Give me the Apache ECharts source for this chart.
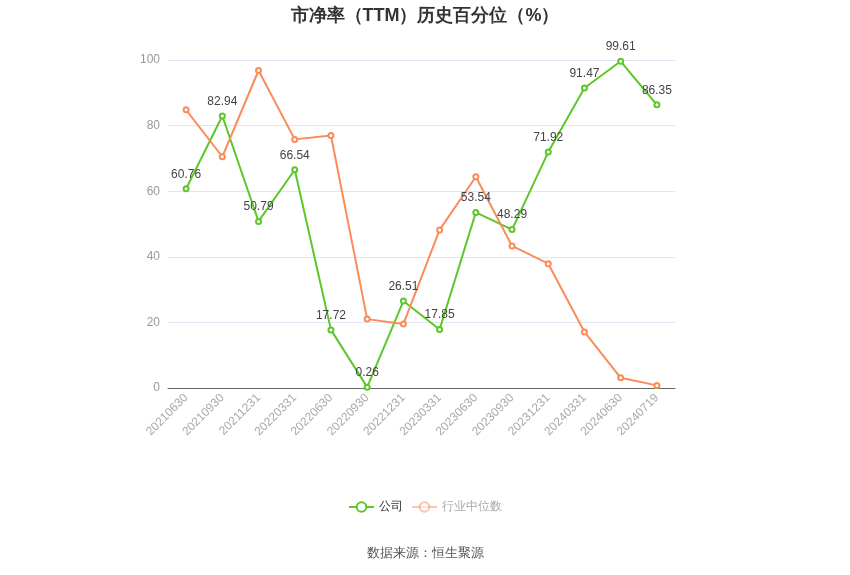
<!DOCTYPE html>
<html><head><meta charset="utf-8">
<script src="https://cdn.jsdelivr.net/npm/echarts@6/dist/echarts.min.js"></script>
<style>html,body{margin:0;padding:0;background:#fff}#c{width:850px;height:575px}</style>
</head><body><div id="c"></div>
<script>
const categories = ['20210630','20210930','20211231','20220331','20220630','20220930','20221231','20230331','20230630','20230930','20231231','20240331','20240630','20240719'];
const companyValues = [60.76,82.94,50.79,66.54,17.72,0.26,26.51,17.85,53.54,48.29,71.92,91.47,99.61,86.35];
const industryValues = [84.8,70.5,96.8,75.8,77.0,21.0,19.5,48.2,64.4,43.3,37.9,17.1,3.1,0.8];
const yTicks = {min:0,max:100,interval:20};

const chart = echarts.init(document.getElementById('c'));
chart.setOption({
  animation:false,
  title:{text:'市净率（TTM）历史百分位（%）',left:'center',top:2,textStyle:{fontSize:18,fontWeight:'bold',color:'#333'}},
  grid:{left:168,right:175,top:60,bottom:187},
  legend:{bottom:57,left:'center',itemWidth:25,itemHeight:12,textStyle:{color:'#333',fontSize:12},
    data:[{name:'公司'},{name:'行业中位数',itemStyle:{opacity:0.5},lineStyle:{opacity:0.5},textStyle:{color:'#aaa'}}]},
  graphic:[{type:'text',left:'center',top:547,style:{text:'数据来源：恒生聚源',fill:'#555',fontSize:13}}],
  xAxis:{type:'category',data:categories,boundaryGap:true,
    axisLine:{lineStyle:{color:'#666'}},axisTick:{alignWithLabel:true,lineStyle:{color:'#666'}},
    axisLabel:{rotate:45,color:'#aaa',fontSize:12,interval:0}},
  yAxis:{type:'value',min:yTicks.min,max:yTicks.max,interval:yTicks.interval,
    axisLine:{show:false},axisTick:{show:false},
    axisLabel:{color:'#999',fontSize:12},splitLine:{lineStyle:{color:'#e0e6f1'}}},
  series:[
    {name:'公司',type:'line',data:companyValues,symbol:'emptyCircle',symbolSize:5,
      itemStyle:{color:'#5cc72a'},lineStyle:{width:2,color:'#5cc72a'},
      label:{show:true,position:'top',color:'#444',fontSize:12}},
    {name:'行业中位数',type:'line',data:industryValues,symbol:'emptyCircle',symbolSize:5,
      itemStyle:{color:'#fa8c5a'},lineStyle:{width:2,color:'#fa8c5a'}}
  ]
});
</script></body></html>
